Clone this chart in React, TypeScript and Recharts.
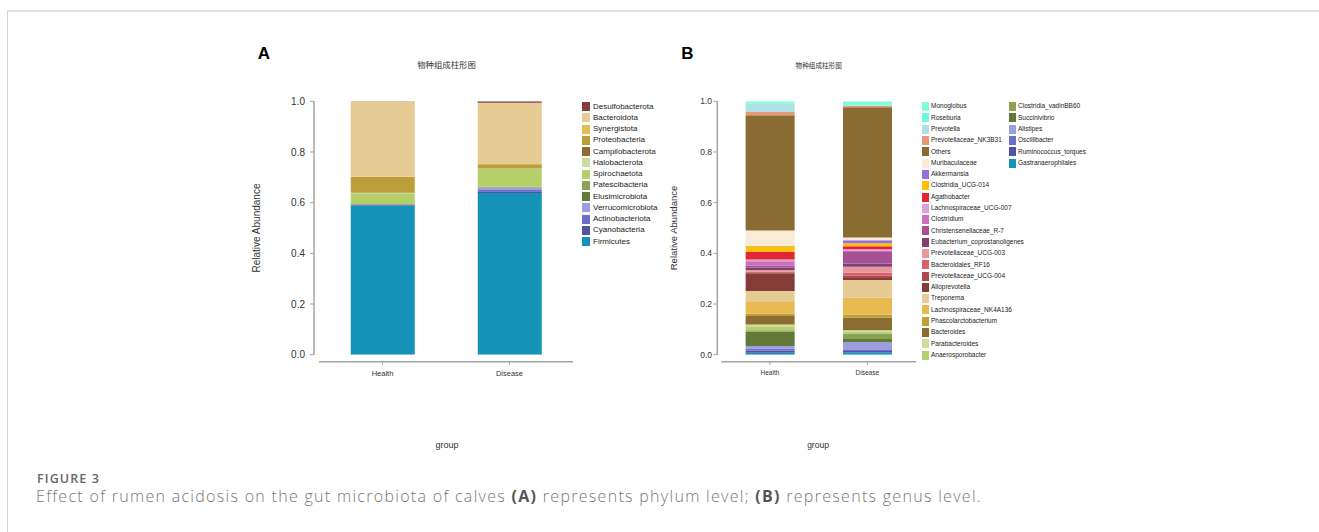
import React from 'react';
import { BarChart, Bar, XAxis, YAxis } from 'recharts';

const groups = ['Health', 'Disease'];
const yTicks = [0, 0.2, 0.4, 0.6, 0.8, 1.0];

// phylum level, listed top of stack -> bottom (legend order)
const phyla = [
  'Desulfobacterota', 'Bacteroidota', 'Synergistota', 'Proteobacteria', 'Campilobacterota',
  'Halobacterota', 'Spirochaetota', 'Patescibacteria', 'Elusimicrobiota', 'Verrucomicrobiota',
  'Actinobacteriota', 'Cyanobacteria', 'Firmicutes',
];
const phylumColors = [
  '#843c39', '#e7cb94', '#e7ba52', '#bd9e39', '#8c6d31',
  '#cedb9c', '#b5cf6b', '#8ca252', '#637939', '#9c9ede',
  '#6b6ecf', '#5254a3', '#1592b8',
];
const phylumHealth = [0.0005, 0.2975, 0.001, 0.062, 0.001, 0.001, 0.042, 0.0005, 0.0005, 0.001, 0.002, 0.002, 0.589];
const phylumDisease = [0.006, 0.241, 0.001, 0.015, 0.001, 0.001, 0.072, 0.002, 0.001, 0.01, 0.005, 0.007, 0.638];

// genus level, listed top of stack -> bottom (legend order)
const genera = [
  'Monoglobus', 'Roseburia', 'Prevotella', 'Prevotellaceae_NK3B31', 'Others',
  'Muribaculaceae', 'Akkermansia', 'Clostridia_UCG-014', 'Agathobacter', 'Lachnospiraceae_UCG-007',
  'Clostridium', 'Christensenellaceae_R-7', 'Eubacterium_coprostanoligenes', 'Prevotellaceae_UCG-003', 'Bacteroidales_RF16',
  'Prevotellaceae_UCG-004', 'Alloprevotella', 'Treponema', 'Lachnospiraceae_NK4A136', 'Phascolarctobacterium',
  'Bacteroides', 'Parabacteroides', 'Anaerosporobacter', 'Clostridia_vadinBB60', 'Succinivibrio',
  'Alistipes', 'Oscillibacter', 'Ruminococcus_torques', 'Gastranaerophilales',
];
const genusColors = [
  '#7fffd4', '#6ff7e2', '#b0e0e6', '#e9967a', '#8a6c33',
  '#faebd7', '#9370db', '#ffc000', '#e32636', '#de9ed6',
  '#ce6dbd', '#a55194', '#7b4173', '#e7969c', '#d6616b',
  '#ad494a', '#843c39', '#e7cb94', '#e7ba52', '#bd9e39',
  '#8c6d31', '#cedb9c', '#b5cf6b', '#8ca252', '#637939',
  '#9c9ede', '#6b6ecf', '#5254a3', '#1592b8',
];
const genusHealth = [
  0.008, 0.002, 0.032, 0.013, 0.455,
  0.06, 0.002, 0.022, 0.03, 0.007,
  0.017, 0.009, 0.009, 0.006, 0.003,
  0.004, 0.07, 0.043, 0.045, 0.01,
  0.034, 0.01, 0.013, 0.005, 0.057,
  0.01, 0.008, 0.008, 0.008,
];
const genusDisease = [
  0.012, 0.005, 0.002, 0.004, 0.514,
  0.011, 0.012, 0.012, 0.012, 0.005,
  0.006, 0.045, 0.013, 0.024, 0.01,
  0.01, 0.008, 0.069, 0.068, 0.012,
  0.05, 0.004, 0.008, 0.022, 0.012,
  0.031, 0.004, 0.005, 0.01,
];

function buildRows(names: string[], health: number[], disease: number[]) {
  return groups.map((g, gi) => {
    const row: Record<string, string | number> = { group: g };
    names.forEach((n, i) => {
      row[n] = gi === 0 ? health[i] : disease[i];
    });
    return row;
  });
}

const AXIS = '#a3a3a3';
const SANS = '"Liberation Sans", Arial, sans-serif';

interface PanelProps {
  names: string[];
  colors: string[];
  rows: Record<string, string | number>[];
  left: number;
  width: number;
  yAxisWidth: number;
  yShift: number;
  yTickMargin: number;
  yFont: number;
  xFont: number;
}

function StackPanel(p: PanelProps) {
  const order = p.names.map((n, i) => ({ n, c: p.colors[i] })).reverse();
  return (
    <div style={{ position: 'absolute', left: p.left, top: 0 }}>
      <BarChart
        width={p.width}
        height={450}
        data={p.rows}
        margin={{ top: 101.3, right: 4, bottom: 65.3, left: 0 }}
        barCategoryGap="25%"
      >
        <XAxis
          dataKey="group"
          height={30}
          interval={0}
          tickSize={3}
          tickMargin={13}
          axisLine={{ stroke: AXIS, strokeWidth: 1.5, transform: 'translate(0,7)' }}
          tickLine={{ stroke: AXIS, strokeWidth: 1, transform: 'translate(0,7)' }}
          tick={{ fill: '#333', fontSize: p.xFont, fontFamily: SANS }}
        />
        <YAxis
          width={p.yAxisWidth}
          domain={[0, 1]}
          allowDataOverflow
          ticks={yTicks}
          interval={0}
          tickSize={4}
          tickMargin={p.yTickMargin}
          tickFormatter={(v: number) => v.toFixed(1)}
          axisLine={{ stroke: AXIS, strokeWidth: 1.5, transform: `translate(${-p.yShift},0)` }}
          tickLine={{ stroke: AXIS, strokeWidth: 1, transform: `translate(${-p.yShift},0)` }}
          tick={{ fill: '#333', fontSize: p.yFont, fontFamily: SANS }}
        />
        {order.map((o) => (
          <Bar key={o.n} dataKey={o.n} stackId="s" fill={o.c} isAnimationActive={false} />
        ))}
      </BarChart>
    </div>
  );
}

function Txt({ x, y, children, size, style }: { x: number; y: number; children: React.ReactNode; size: number; style?: React.CSSProperties }) {
  return (
    <div
      style={{
        position: 'absolute',
        left: x,
        top: y,
        transform: 'translate(-50%,-50%)',
        fontSize: size,
        lineHeight: 1,
        whiteSpace: 'nowrap',
        fontFamily: SANS,
        color: '#333',
        ...style,
      }}
    >
      {children}
    </div>
  );
}

function LegendCol({ names, colors, x, y0, step, sw, sh, gap, size }: {
  names: string[]; colors: string[]; x: number; y0: number; step: number; sw: number; sh: number; gap: number; size: number;
}) {
  return (
    <>
      {names.map((n, i) => (
        <div key={n} style={{ position: 'absolute', left: x, top: y0 + i * step - sh / 2, height: sh, display: 'flex', alignItems: 'center' }}>
          <div style={{ width: sw, height: sh, background: colors[i], marginRight: gap }} />
          <span style={{ fontSize: size, fontFamily: SANS, color: '#222', whiteSpace: 'nowrap', lineHeight: 1 }}>{n}</span>
        </div>
      ))}
    </>
  );
}

export default function App() {
  const rowsA = buildRows(phyla, phylumHealth, phylumDisease);
  const rowsB = buildRows(genera, genusHealth, genusDisease);
  return (
    <div style={{ position: 'absolute', left: 0, top: 0, width: 1319, height: 532, background: '#fff', overflow: 'hidden' }}>
      <div style={{ position: 'absolute', left: 7, top: 10, right: 0, bottom: 0, borderTop: '2px solid #e2e2e2', borderLeft: '1px solid #d6d6d6' }} />

      <StackPanel names={phyla} colors={phylumColors} rows={rowsA} left={240} width={337} yAxisWidth={79} yShift={5} yTickMargin={10} yFont={10} xFont={7.5} />
      <StackPanel names={genera} colors={genusColors} rows={rowsB} left={680} width={240} yAxisWidth={41.3} yShift={4} yTickMargin={5.3} yFont={8.5} xFont={6.5} />

      <Txt x={264} y={53} size={17} style={{ fontWeight: 700, color: '#000', fontFamily: 'Arial, "Liberation Sans", sans-serif' }}>A</Txt>
      <Txt x={687.5} y={53} size={17} style={{ fontWeight: 700, color: '#000', fontFamily: 'Arial, "Liberation Sans", sans-serif' }}>B</Txt>

      <Txt x={446.5} y={64} size={8.4} style={{ fontFamily: '"Noto Sans CJK SC", sans-serif' }}>物种组成柱形图</Txt>
      <Txt x={818.7} y={64.5} size={6.6} style={{ fontFamily: '"Noto Sans CJK SC", sans-serif' }}>物种组成柱形图</Txt>

      <Txt x={256.7} y={228.3} size={10} style={{ transform: 'translate(-50%,-50%) rotate(-90deg)' }}>Relative Abundance</Txt>
      <Txt x={673.5} y={228.3} size={9.5} style={{ transform: 'translate(-50%,-50%) rotate(-90deg)' }}>Relative Abundance</Txt>

      <Txt x={447} y={445} size={9}>group</Txt>
      <Txt x={818} y={445} size={8.5}>group</Txt>

      <LegendCol names={phyla} colors={phylumColors} x={582} y0={106.7} step={11.25} sw={8} sh={9} gap={3} size={8} />
      <LegendCol names={genera.slice(0, 23)} colors={genusColors.slice(0, 23)} x={922} y0={106.7} step={11.29} sw={6.5} sh={9} gap={2.5} size={6.5} />
      <LegendCol names={genera.slice(23)} colors={genusColors.slice(23)} x={1009} y0={106.7} step={11.29} sw={6.5} sh={9} gap={2.5} size={6.5} />

      <div style={{ position: 'absolute', left: 37, top: 473, fontFamily: '"Open Sans", sans-serif', fontSize: 12.5, fontWeight: 600, color: '#666', lineHeight: 1, letterSpacing: 1.1 }}>
        FIGURE 3
      </div>
      <div style={{ position: 'absolute', left: 36, top: 488, fontFamily: '"Open Sans", sans-serif', fontSize: 16, fontWeight: 300, color: '#777', lineHeight: 1, whiteSpace: 'nowrap', letterSpacing: 1.3 }}>
        Effect of rumen acidosis on the gut microbiota of calves <b style={{ color: '#555', fontWeight: 700 }}>(A)</b> represents phylum level; <b style={{ color: '#555', fontWeight: 700 }}>(B)</b> represents genus level.
      </div>
    </div>
  );
}
